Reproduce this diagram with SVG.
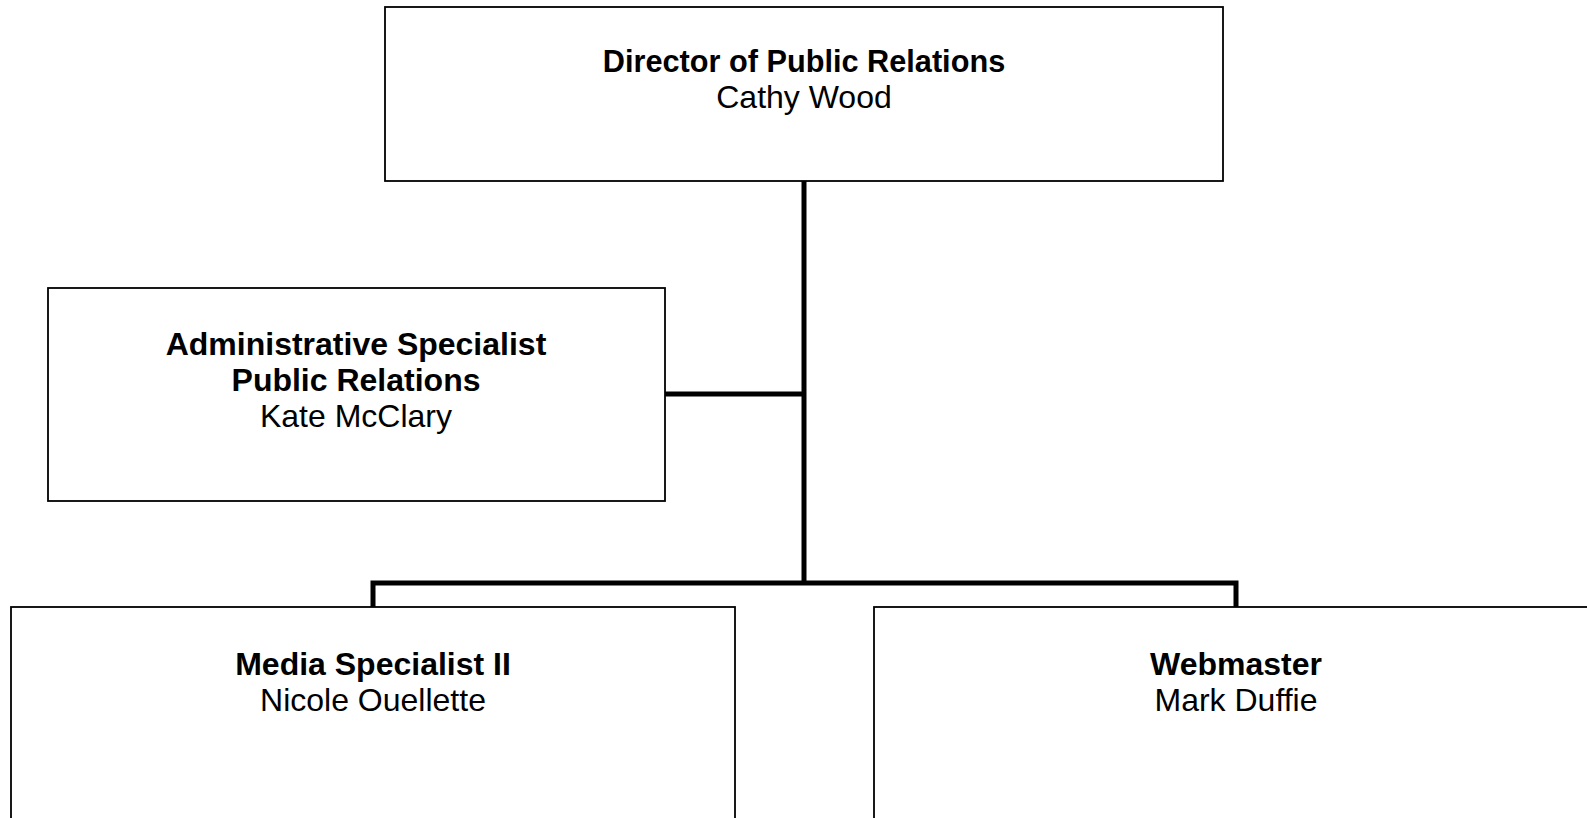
<svg xmlns="http://www.w3.org/2000/svg" width="1587" height="818" viewBox="0 0 1587 818">
<style>
.box{fill:#fff;stroke:#000;stroke-width:1.8}
.con{fill:none;stroke:#000;stroke-width:5;stroke-linejoin:miter}
text{font-family:"Liberation Sans",Arial,sans-serif;font-size:32px;text-anchor:middle;fill:#000}
.t{font-weight:bold}
</style>
<rect width="1587" height="818" fill="#fff"/>
<g id="connectors">
<path class="con" d="M804,181 V583"/>
<path class="con" d="M665,394 H804"/>
<path class="con" d="M373,607 V583 H1236 V607"/>
</g>
<g id="director">
<rect class="box" x="385" y="7" width="838" height="174"/>
<text x="804" y="72" class="t" style="font-size:30.7px">Director of Public Relations</text>
<text x="804" y="108">Cathy Wood</text>
</g>
<g id="admin">
<rect class="box" x="48" y="288" width="617" height="213"/>
<text x="356" y="355" class="t">Administrative Specialist</text>
<text x="356" y="391" class="t">Public Relations</text>
<text x="356" y="427">Kate McClary</text>
</g>
<g id="media">
<rect class="box" x="11" y="607" width="724" height="230"/>
<text x="373" y="675" class="t">Media Specialist II</text>
<text x="373" y="711">Nicole Ouellette</text>
</g>
<g id="webmaster">
<rect class="box" x="874" y="607" width="740" height="230"/>
<text x="1236" y="675" class="t">Webmaster</text>
<text x="1236" y="711">Mark Duffie</text>
</g>
</svg>
